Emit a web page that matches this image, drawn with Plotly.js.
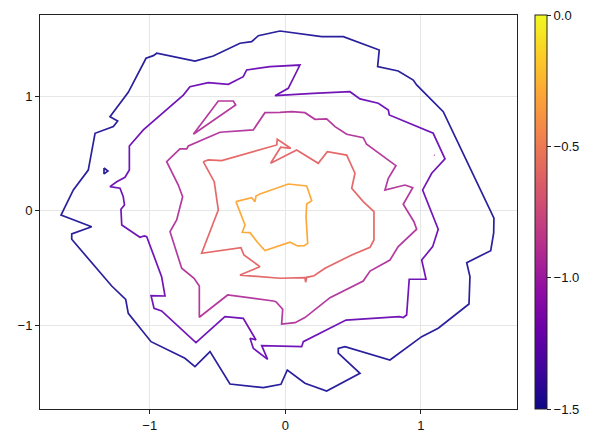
<!DOCTYPE html>
<html>
<head>
<meta charset="utf-8">
<script src="https://cdn.plot.ly/plotly-3.0.1.min.js"></script>
<style>html,body{margin:0;padding:0;background:#fff;}#plot{width:596px;height:446px;}</style>
</head>
<body>
<div id="plot"></div>
<script>
// contour levels and their colours (plasma scale, range -1.5 .. 0)
const levels = [-1.5, -1.2, -0.9, -0.6, -0.3];
const levelColors = ['#2a1f9d', '#7115b8', '#b53a9f', '#e5686a', '#fcaa3c'];

// level -1.5 (outer ring)
const ring1X = [-0.039,0.268,0.428,0.625,0.693,0.681,0.833,0.944,0.969,1.165,1.539,1.537,1.515,1.338,1.362,1.355,1.128,1.006,0.772,0.440,0.391,0.391,0.551,0.305,0.145,0.015,-0.032,-0.162,-0.408,-0.555,-0.666,-0.740,-0.990,-1.158,-1.177,-1.280,-1.575,-1.575,-1.428,-1.654,-1.563,-1.453,-1.403,-1.268,-1.236,-1.293,-1.158,-1.027,-0.973,-0.948,-0.666,-0.531,-0.334,-0.248,-0.199,-0.039];
const ring1Y = [1.569,1.520,1.520,1.432,1.403,1.258,1.220,1.141,1.098,0.865,-0.066,-0.195,-0.349,-0.454,-0.576,-0.815,-1.027,-1.100,-1.304,-1.188,-1.202,-1.245,-1.420,-1.575,-1.507,-1.391,-1.516,-1.546,-1.514,-1.231,-1.362,-1.289,-1.144,-0.896,-0.774,-0.658,-0.250,-0.203,-0.140,-0.038,0.181,0.355,0.676,0.734,0.783,0.821,1.034,1.331,1.354,1.375,1.307,1.351,1.462,1.476,1.528,1.569];
const ring1bX = [-1.337,-1.308,-1.337,-1.337];
const ring1bY = [0.373,0.347,0.321,0.373];

// level -1.2
const ring2X = [-0.113,0.108,0.022,-0.076,0.206,0.477,0.551,0.686,0.760,0.767,1.091,1.178,1.080,1.013,1.128,1.087,1.006,1.038,0.914,0.895,0.870,0.841,0.448,0.133,0.121,-0.174,-0.130,-0.236,-0.260,-0.216,-0.310,-0.445,-0.659,-0.912,-0.968,-0.990,-0.887,-0.912,-1.022,-1.040,-1.072,-1.206,-1.212,-1.186,-1.195,-1.219,-1.293,-1.243,-1.182,-1.150,-1.150,-1.047,-0.752,-0.703,-0.568,-0.420,-0.310,-0.285,-0.113];
const ring2Y = [1.258,1.272,1.069,1.004,1.025,1.039,0.976,0.938,0.879,0.836,0.676,0.452,0.327,0.181,-0.162,-0.314,-0.431,-0.597,-0.599,-0.911,-0.933,-0.926,-0.955,-1.144,-1.188,-1.179,-1.298,-1.202,-1.114,-1.129,-0.940,-0.926,-1.153,-0.876,-0.852,-0.742,-0.745,-0.576,-0.227,-0.221,-0.232,-0.125,0.012,0.050,0.122,0.196,0.210,0.253,0.292,0.355,0.565,0.705,1.010,1.083,1.118,1.104,1.170,1.229,1.258];

// level -0.9
const ring3X = [-0.039,0.047,0.145,0.219,0.305,0.367,0.453,0.575,0.600,0.816,0.760,0.735,0.883,0.940,0.870,0.949,0.969,0.833,0.772,0.625,0.575,0.330,0.145,0.072,-0.027,-0.019,-0.069,-0.088,-0.425,-0.634,-0.634,-0.673,-0.764,-0.850,-0.801,-0.757,-0.789,-0.875,-0.777,-0.727,-0.715,-0.482,-0.236,-0.150,-0.039];
const ring3Y = [0.859,0.865,0.856,0.798,0.801,0.734,0.667,0.638,0.580,0.393,0.283,0.181,0.224,0.201,0.056,-0.096,-0.162,-0.314,-0.431,-0.527,-0.614,-0.760,-0.934,-0.978,-0.990,-0.861,-0.795,-0.789,-0.736,-0.931,-0.658,-0.590,-0.503,-0.183,-0.081,0.122,0.224,0.428,0.539,0.539,0.565,0.685,0.705,0.856,0.859];
const ring3bX = [-0.678,-0.494,-0.383,-0.366,-0.678];
const ring3bY = [0.667,0.958,0.958,0.923,0.667];
const ring3cX = [1.096,1.102,1.099,1.096];
const ring3cY = [0.484,0.484,0.489,0.484];

// level -0.6
const ring4X = [-0.605,-0.568,-0.469,-0.322,-0.063,-0.059,0.040,-0.034,-0.108,0.084,0.243,0.310,0.453,0.514,0.490,0.575,0.654,0.654,0.625,0.490,0.293,0.212,0.158,0.150,0.145,-0.039,-0.199,-0.334,-0.187,-0.305,-0.327,-0.617,-0.494,-0.524,-0.605];
const ring4Y = [0.428,0.443,0.437,0.486,0.574,0.624,0.545,0.554,0.414,0.530,0.414,0.515,0.486,0.327,0.196,0.079,-0.009,-0.256,-0.320,-0.387,-0.503,-0.568,-0.582,-0.625,-0.585,-0.590,-0.576,-0.562,-0.489,-0.387,-0.323,-0.372,0.006,0.253,0.428];

// level -0.3 (inner ring)
const ring5X = [-0.364,-0.248,-0.223,-0.216,-0.187,0.022,0.158,0.195,0.158,0.153,0.165,0.140,0.091,0.035,-0.150,-0.199,-0.260,-0.317,-0.297,-0.364];
const ring5Y = [0.079,0.114,0.079,0.128,0.146,0.233,0.216,0.087,0.059,-0.052,-0.285,-0.306,-0.308,-0.276,-0.349,-0.285,-0.192,-0.189,-0.125,0.079];

const xTicks = [-1, 0, 1];
const yTicks = [-1, 0, 1];
const cbTicks = [0, -0.5, -1, -1.5];
const cbTickText = ['0.0', '\u22120.5', '\u22121.0', '\u22121.5'];

const plasma = [
  [0.0,'#0d0887'],[0.1,'#41049d'],[0.2,'#6a00a8'],[0.3,'#8f0da4'],[0.4,'#b12a90'],
  [0.5,'#cc4778'],[0.6,'#e16462'],[0.7,'#f2844b'],[0.8,'#fca636'],[0.9,'#fcce25'],[1.0,'#f0f921']
];

const groups = [
  {i: 0, parts: [[ring1X, ring1Y], [ring1bX, ring1bY]]},
  {i: 1, parts: [[ring2X, ring2Y]]},
  {i: 2, parts: [[ring3X, ring3Y], [ring3bX, ring3bY], [ring3cX, ring3cY]]},
  {i: 3, parts: [[ring4X, ring4Y]]},
  {i: 4, parts: [[ring5X, ring5Y]]}
];

const traces = [];
groups.forEach(g => {
  g.parts.forEach(p => {
    traces.push({
      type: 'scatter', mode: 'lines', x: p[0], y: p[1],
      name: String(levels[g.i]),
      line: {color: levelColors[g.i], width: 1.7},
      hoverinfo: 'skip', showlegend: false
    });
  });
});

// colour bar carrier
traces.push({
  type: 'scatter', mode: 'markers', x: [0, 0], y: [0, 0],
  marker: {
    size: 0.1, opacity: 0, color: [-1.5, 0], cmin: -1.5, cmax: 0,
    colorscale: plasma, showscale: true,
    colorbar: {
      x: 1.0377, xanchor: 'left', xref: 'paper', y: 0.5, yanchor: 'middle',
      len: 1, lenmode: 'fraction', thickness: 12, thicknessmode: 'pixels',
      outlinewidth: 1, outlinecolor: '#222', xpad: 0, ypad: 0,
      tickmode: 'array', tickvals: cbTicks, ticktext: cbTickText,
      ticks: 'outside', ticklen: 4, tickcolor: '#222',
      tickfont: {family: 'Liberation Sans, Arial, sans-serif', size: 13, color: '#111'}
    }
  },
  hoverinfo: 'skip', showlegend: false
});

const axisCommon = {
  showgrid: true, gridcolor: '#e6e6e6', gridwidth: 1,
  zeroline: false, showline: true, mirror: true, linecolor: '#222', linewidth: 1,
  ticks: 'outside', ticklen: 4, tickcolor: '#222', tickmode: 'array',
  tickfont: {family: 'Liberation Sans, Arial, sans-serif', size: 13, color: '#111'}
};

const layout = {
  width: 596, height: 446,
  margin: {l: 40, r: 79, t: 15, b: 37},
  paper_bgcolor: '#fff', plot_bgcolor: '#fff',
  xaxis: Object.assign({}, axisCommon, {range: [-1.809, 1.709], tickvals: xTicks, ticktext: ['\u22121','0','1']}),
  yaxis: Object.assign({}, axisCommon, {range: [-1.732, 1.709], tickvals: yTicks, ticktext: ['\u22121','0','1']}),
  showlegend: false
};

Plotly.newPlot('plot', traces, layout, {displayModeBar: false, staticPlot: true});
</script>
</body>
</html>
